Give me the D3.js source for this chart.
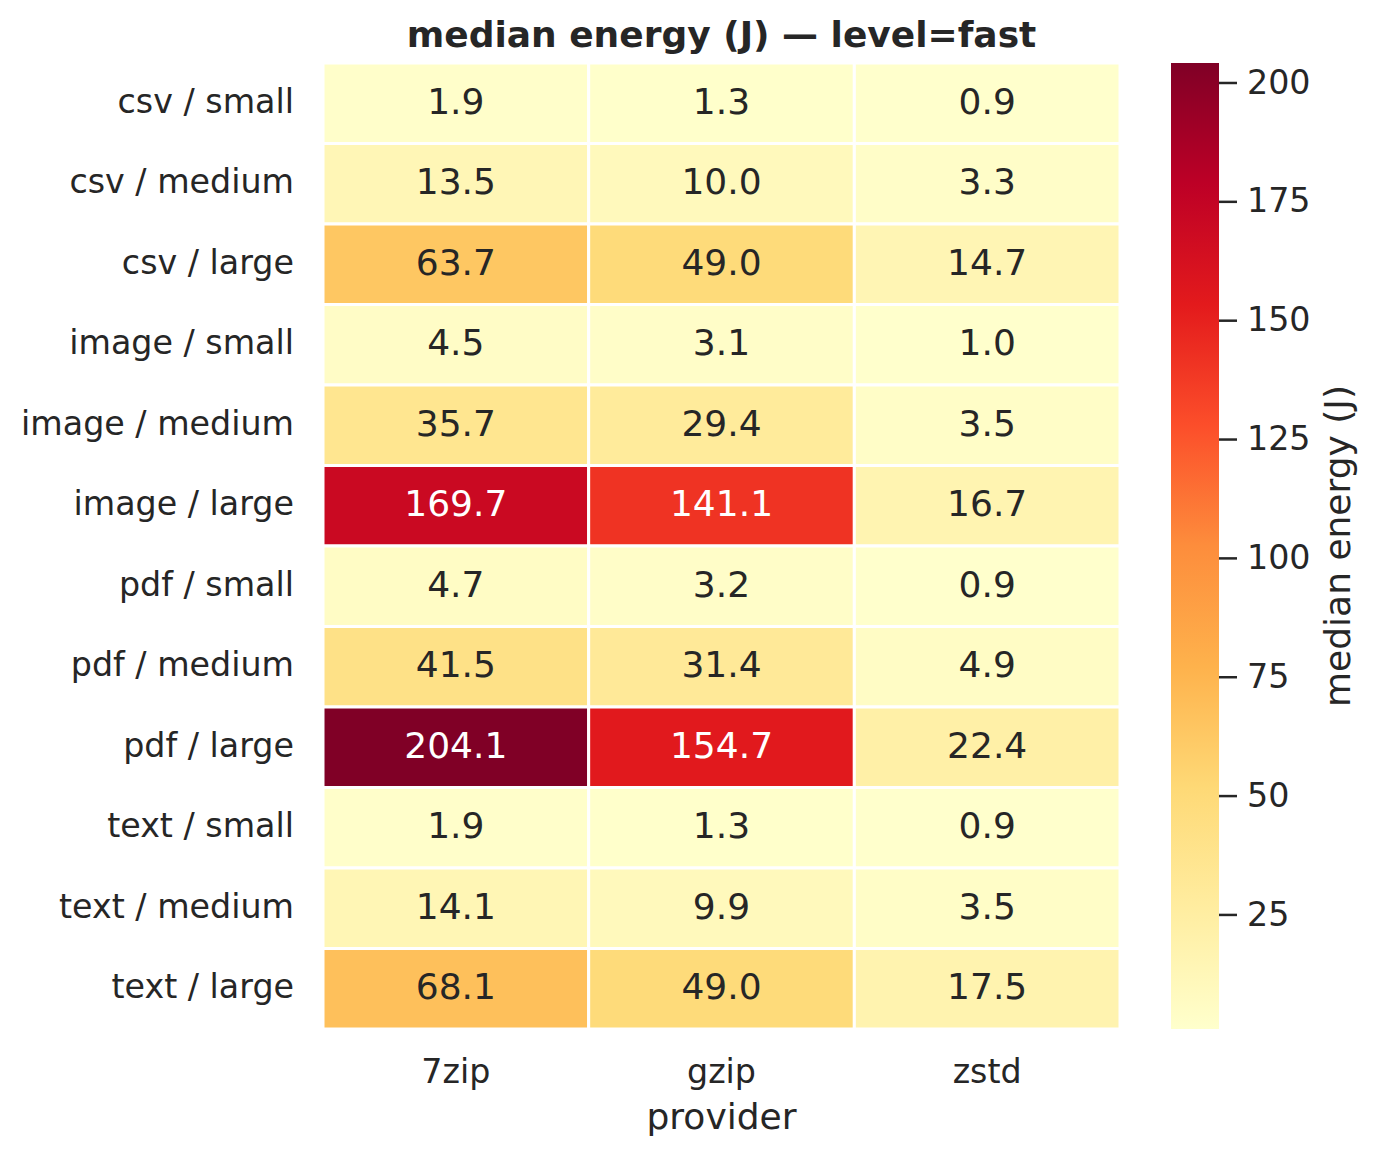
<!DOCTYPE html>
<html>
<head>
<meta charset="utf-8">
<script src="https://cdn.jsdelivr.net/npm/d3@7"></script>
<style>
  body { margin: 0; background: #fff; }
  text { font-family: "DejaVu Sans", sans-serif; fill: #262626; }
</style>
</head>
<body>
<svg id="chart" width="1378" height="1157"></svg>
<script>
// data
const rows = ["csv / small", "csv / medium", "csv / large",
              "image / small", "image / medium", "image / large",
              "pdf / small", "pdf / medium", "pdf / large",
              "text / small", "text / medium", "text / large"];
const providers = ["7zip", "gzip", "zstd"];
const energy7zip = [1.9, 13.5, 63.7, 4.5, 35.7, 169.7, 4.7, 41.5, 204.1, 1.9, 14.1, 68.1];
const energyGzip = [1.3, 10.0, 49.0, 3.1, 29.4, 141.1, 3.2, 31.4, 154.7, 1.3, 9.9, 49.0];
const energyZstd = [0.9, 3.3, 14.7, 1.0, 3.5, 16.7, 0.9, 4.9, 22.4, 0.9, 3.5, 17.5];
const cbarTicks = [25, 50, 75, 100, 125, 150, 175, 200];

const series = [energy7zip, energyGzip, energyZstd];
const cells = [];
rows.forEach((r, i) => providers.forEach((p, j) => cells.push({row: r, prov: p, v: series[j][i]})));

const svg = d3.select("#chart");
const mLeft = 323, mRight = 1120, mTop = 63, mBottom = 1029;

// matplotlib YlOrRd (linear through the 9 colorbrewer stops)
const ylorrd = ["#ffffcc","#ffeda0","#fed976","#feb24c","#fd8d3c","#fc4e2a","#e31a1c","#bd0026","#800026"];
const allVals = cells.map(d => d.v);
const vmin = d3.min(allVals), vmax = d3.max(allVals);
const cmap = d3.scaleLinear()
  .domain(d3.range(9).map(k => vmin + (vmax - vmin) * k / 8))
  .range(ylorrd)
  .interpolate(d3.interpolateRgb)
  .clamp(true);

const x = d3.scaleBand().domain(providers).range([mLeft, mRight]);
const y = d3.scaleBand().domain(rows).range([mTop, mBottom]);

// cells
svg.append("g").selectAll("rect").data(cells).join("rect")
  .attr("x", d => x(d.prov))
  .attr("y", d => y(d.row))
  .attr("width", x.bandwidth())
  .attr("height", y.bandwidth())
  .attr("fill", d => cmap(d.v))
  .attr("stroke", "#fff")
  .attr("stroke-width", 3);

// annotation text colour like seaborn (luminance based)
function lum(c) {
  const rgb = d3.rgb(c);
  const f = u => { u /= 255; return u <= 0.03928 ? u / 12.92 : Math.pow((u + 0.055) / 1.055, 2.4); };
  return 0.2126 * f(rgb.r) + 0.7152 * f(rgb.g) + 0.0722 * f(rgb.b);
}
svg.append("g").selectAll("text").data(cells).join("text")
  .attr("x", d => x(d.prov) + x.bandwidth() / 2)
  .attr("y", d => y(d.row) + y.bandwidth() / 2 - 2)
  .attr("text-anchor", "middle")
  .attr("dominant-baseline", "central")
  .style("font-size", "36px")
  .style("fill", d => lum(cmap(d.v)) > 0.408 ? "#262626" : "#ffffff")
  .text(d => d.v.toFixed(1));

// y tick labels
svg.append("g").selectAll("text").data(rows).join("text")
  .attr("x", mLeft - 29)
  .attr("y", d => y(d) + y.bandwidth() / 2 - 2)
  .attr("text-anchor", "end")
  .attr("dominant-baseline", "central")
  .style("font-size", "33.3px")
  .text(d => d);

// x tick labels
svg.append("g").selectAll("text").data(providers).join("text")
  .attr("x", d => x(d) + x.bandwidth() / 2)
  .attr("y", 1083)
  .attr("text-anchor", "middle")
  .style("font-size", "33.3px")
  .text(d => d);

svg.append("text")
  .attr("x", (mLeft + mRight) / 2).attr("y", 1129)
  .attr("text-anchor", "middle")
  .style("font-size", "36px")
  .text("provider");

svg.append("text")
  .attr("x", (mLeft + mRight) / 2).attr("y", 47)
  .attr("text-anchor", "middle")
  .style("font-size", "36px")
  .style("font-weight", "bold")
  .text("median energy (J) \u2014 level=fast");

// colorbar
const cbx = 1171, cbw = 48;
const cy = d3.scaleLinear().domain([vmin, vmax]).range([mBottom, mTop]);
const grad = svg.append("defs").append("linearGradient")
  .attr("id", "cbar").attr("x1", 0).attr("y1", 1).attr("x2", 0).attr("y2", 0);
grad.selectAll("stop").data(d3.range(9)).join("stop")
  .attr("offset", k => k / 8)
  .attr("stop-color", k => ylorrd[k]);
svg.append("rect")
  .attr("x", cbx).attr("y", mTop)
  .attr("width", cbw).attr("height", mBottom - mTop)
  .attr("fill", "url(#cbar)");

const cAxis = svg.append("g")
  .attr("transform", `translate(${cbx + cbw},0)`)
  .call(d3.axisRight(cy).tickValues(cbarTicks).tickSize(18).tickPadding(10));
cAxis.select(".domain").remove();
cAxis.selectAll("line").attr("stroke", "#262626").attr("stroke-width", 2.5);
cAxis.selectAll("text")
  .style("font-size", "33.3px")
  .style("font-family", "DejaVu Sans, sans-serif")
  .attr("fill", "#262626");

svg.append("text")
  .attr("transform", `translate(1350,${(mTop + mBottom) / 2}) rotate(-90)`)
  .attr("text-anchor", "middle")
  .style("font-size", "36px")
  .text("median energy (J)");
</script>
</body>
</html>
